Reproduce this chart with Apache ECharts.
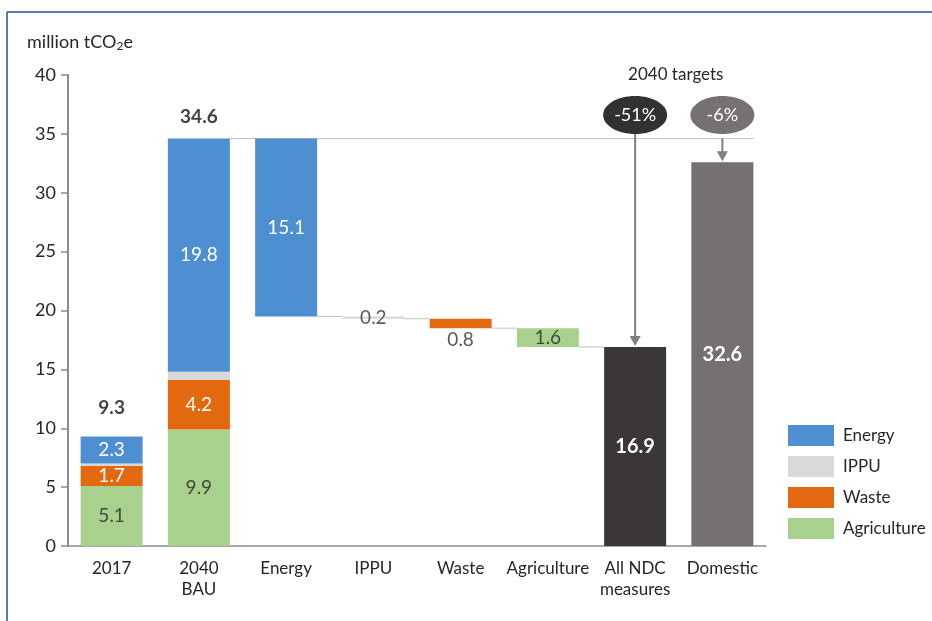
<!DOCTYPE html>
<html>
<head>
<meta charset="utf-8">
<script src="https://cdn.jsdelivr.net/npm/echarts@6/dist/echarts.min.js"></script>
<style>
  html, body { margin: 0; padding: 0; background: #ffffff; }
  #chart { width: 932px; height: 621px; }
</style>
</head>
<body>
<div id="chart"></div>
<script>
// Categories along the x axis
const categories = ['2017', '2040\nBAU', 'Energy', 'IPPU', 'Waste', 'Agriculture', 'All NDC\nmeasures', 'Domestic'];
// Sector order used for the legend and for the values below
const sectors = ['Energy', 'IPPU', 'Waste', 'Agriculture'];
// Emissions by sector (million tCO2e), same order as sectors
const emissions2017 = [2.3, 0.2, 1.7, 5.1];
const emissionsBAU2040 = [19.8, 0.7, 4.2, 9.9];
// Reductions from all NDC measures by sector
const ndcReductions = [15.1, 0.2, 0.8, 1.6];
// 2040 target levels
const ndcTarget = 16.9;
const domesticTarget = 32.6;
const targetLabels = ['-51%', '-6%'];
const yTicks = [0, 5, 10, 15, 20, 25, 30, 35, 40];

const sectorColors = { Energy: '#4d8fd1', IPPU: '#d9d9d9', Waste: '#e2690f', Agriculture: '#a9d18e' };
const FONT = 'Lato, "Open Sans", sans-serif';
const BAR_W = 62;

const sum = a => Math.round(a.reduce((s, v) => s + v, 0) * 10) / 10;
const total2017 = sum(emissions2017);
const totalBAU = sum(emissionsBAU2040);

// Waterfall levels: BAU total minus the reductions, one sector at a time
const levelsAfter = [];
let running = totalBAU;
ndcReductions.forEach(r => { running = Math.round((running - r) * 10) / 10; levelsAfter.push(running); });

const n = categories.length;
const blank = () => new Array(n).fill('-');

// invisible base under the floating reduction bars
const baseData = blank();
baseData[0] = 0; baseData[1] = 0;
levelsAfter.forEach((lv, i) => { baseData[2 + i] = lv; });

// stacking order from the bottom: Agriculture, Waste, IPPU, Energy
const stackOrder = ['Agriculture', 'Waste', 'IPPU', 'Energy'];
const sectorSeries = stackOrder.map(name => {
  const k = sectors.indexOf(name);
  const data = blank();
  data[0] = emissions2017[k];
  data[1] = emissionsBAU2040[k];
  data[2 + k] = ndcReductions[k];
  const darkText = name === 'Agriculture';
  return {
    name, type: 'bar', stack: 'total', barWidth: BAR_W,
    itemStyle: { color: sectorColors[name] },
    label: {
      show: true, position: 'inside', fontFamily: FONT, fontSize: 19,
      color: darkText ? '#3f4a3a' : '#ffffff',
      formatter: p => {
        if (name === 'IPPU' && p.dataIndex < 2) return '';
        return p.value.toFixed(1);
      }
    },
    data: data.map((v, i) => {
      // thin reduction bars: IPPU value sits on the step, Waste value beneath the bar
      if (name === 'IPPU' && i === 2 + k) {
        return { value: v, label: { position: 'inside', color: '#595959' } };
      }
      if (name === 'Waste' && i === 2 + k) {
        return { value: v, label: { position: 'bottom', distance: 2, color: '#595959' } };
      }
      return v;
    })
  };
});

const totalsData = blank();
totalsData[6] = { value: ndcTarget, itemStyle: { color: '#3b3738' } };
totalsData[7] = { value: domesticTarget, itemStyle: { color: '#767070' } };

// connector lines: [fromIndex, fromSide, toIndex, toSide, level]
const connectors = [[1, 1, 7, 1, totalBAU]];
levelsAfter.forEach((lv, i) => connectors.push([2 + i, 1, 3 + i, -1, lv]));

const chart = echarts.init(document.getElementById('chart'), null, { renderer: 'canvas' });

chart.setOption({
  animation: false,
  backgroundColor: '#ffffff',
  grid: { left: 68, right: 166, top: 75, bottom: 75, containLabel: false },
  legend: {
    orient: 'vertical', left: 783, top: 420,
    itemWidth: 46, itemHeight: 21, itemGap: 10,
    icon: 'rect',
    data: sectors,
    textStyle: { fontFamily: FONT, fontSize: 17, color: '#262626', padding: [0, 0, 0, 4] },
    selectedMode: false
  },
  xAxis: {
    type: 'category', data: categories,
    axisLine: { show: true, lineStyle: { color: '#8c8c8c', width: 1.5 } },
    axisTick: { show: false },
    axisLabel: { fontFamily: FONT, fontSize: 17, color: '#262626', margin: 12, lineHeight: 21, interval: 0 }
  },
  yAxis: {
    type: 'value', min: yTicks[0], max: yTicks[yTicks.length - 1], interval: 5,
    splitLine: { show: false },
    axisLine: { show: true, lineStyle: { color: '#8c8c8c', width: 2 } },
    axisTick: { show: true, length: 7, lineStyle: { color: '#8c8c8c', width: 1.5 } },
    axisLabel: { fontFamily: FONT, fontSize: 18, color: '#262626', margin: 12 }
  },
  series: [
    {
      name: 'base', type: 'bar', stack: 'total', barWidth: BAR_W,
      itemStyle: { color: 'rgba(0,0,0,0)' }, silent: true, data: baseData
    },
    ...sectorSeries,
    {
      name: 'targets', type: 'bar', stack: 'total', barWidth: BAR_W,
      label: { show: true, position: 'inside', fontFamily: FONT, fontSize: 20, fontWeight: 'bold', color: '#ffffff',
        formatter: p => p.value.toFixed(1) },
      data: totalsData
    },
    {
      // totals above the 2017 and 2040 BAU stacks
      name: 'totals', type: 'scatter', symbolSize: 0,
      label: { show: true, position: 'top', fontFamily: FONT, fontSize: 19, fontWeight: 'bold', color: '#111111',
        formatter: p => p.value[1].toFixed(1) },
      data: [
        { value: [0, total2017], label: { distance: 19 } },
        { value: [1, totalBAU], label: { distance: 12 } }
      ]
    },
    {
      name: 'connectors', type: 'custom', silent: true, z: 1,
      data: connectors,
      renderItem: (params, api) => {
        const half = BAR_W / 2;
        const p1 = api.coord([api.value(0), api.value(4)]);
        const p2 = api.coord([api.value(2), api.value(4)]);
        return {
          type: 'line',
          shape: { x1: p1[0] + api.value(1) * half, y1: p1[1], x2: p2[0] + api.value(3) * half, y2: p2[1] },
          style: { stroke: '#bfbfbf', lineWidth: 1 }
        };
      }
    },
    {
      name: 'target markers', type: 'custom', silent: true, z: 5,
      data: [[6, ndcTarget, 0], [7, domesticTarget, 1]],
      renderItem: (params, api) => {
        const idx = api.value(0);
        const k = api.value(2);
        const top = api.coord([idx, api.value(1)]);
        const bubble = api.coord([idx, 36.6]);
        const lineTop = api.coord([idx, totalBAU]);
        const x = top[0];
        const yStart = k === 0 ? bubble[1] + 18 : lineTop[1];
        const head = 10;
        const children = [
          { type: 'line', shape: { x1: x, y1: yStart, x2: x, y2: top[1] - head }, style: { stroke: '#7f7f7f', lineWidth: 2 } },
          { type: 'polygon', shape: { points: [[x - 5.5, top[1] - head - 1], [x + 5.5, top[1] - head - 1], [x, top[1] - 1]] }, style: { fill: '#7f7f7f' } },
          { type: 'ellipse', shape: { cx: x, cy: bubble[1], rx: 32, ry: 19 }, style: { fill: k === 0 ? '#333031' : '#777272' } },
          { type: 'text', x: x, y: bubble[1], style: { text: targetLabels[k], fill: '#ffffff', font: '18px ' + FONT, align: 'center', verticalAlign: 'middle' } }
        ];
        if (k === 0) {
          // heading centred over both target bubbles
          const other = api.coord([idx + 1, 40]);
          children.push({ type: 'text', x: (x + other[0]) / 2 - 3, y: other[1], style: { text: '2040 targets', fill: '#262626', font: '17px ' + FONT, align: 'center', verticalAlign: 'middle' } });
        }
        return { type: 'group', children };
      }
    }
  ],
  graphic: [
    { type: 'line', shape: { x1: 7, y1: 12, x2: 932, y2: 12 }, style: { stroke: '#1f5293', lineWidth: 1.5 } },
    { type: 'line', shape: { x1: 7, y1: 12, x2: 7, y2: 621 }, style: { stroke: '#1f5293', lineWidth: 1.5 } },
    {
      type: 'text', left: 27, top: 33,
      style: {
        text: 'million tCO{sub|2}e',
        font: '18px ' + FONT, fill: '#262626',
        rich: { sub: { fontSize: 12, fontFamily: FONT, fill: '#262626', padding: [8, 0, 0, 0] } }
      }
    }
  ]
});
</script>
</body>
</html>
